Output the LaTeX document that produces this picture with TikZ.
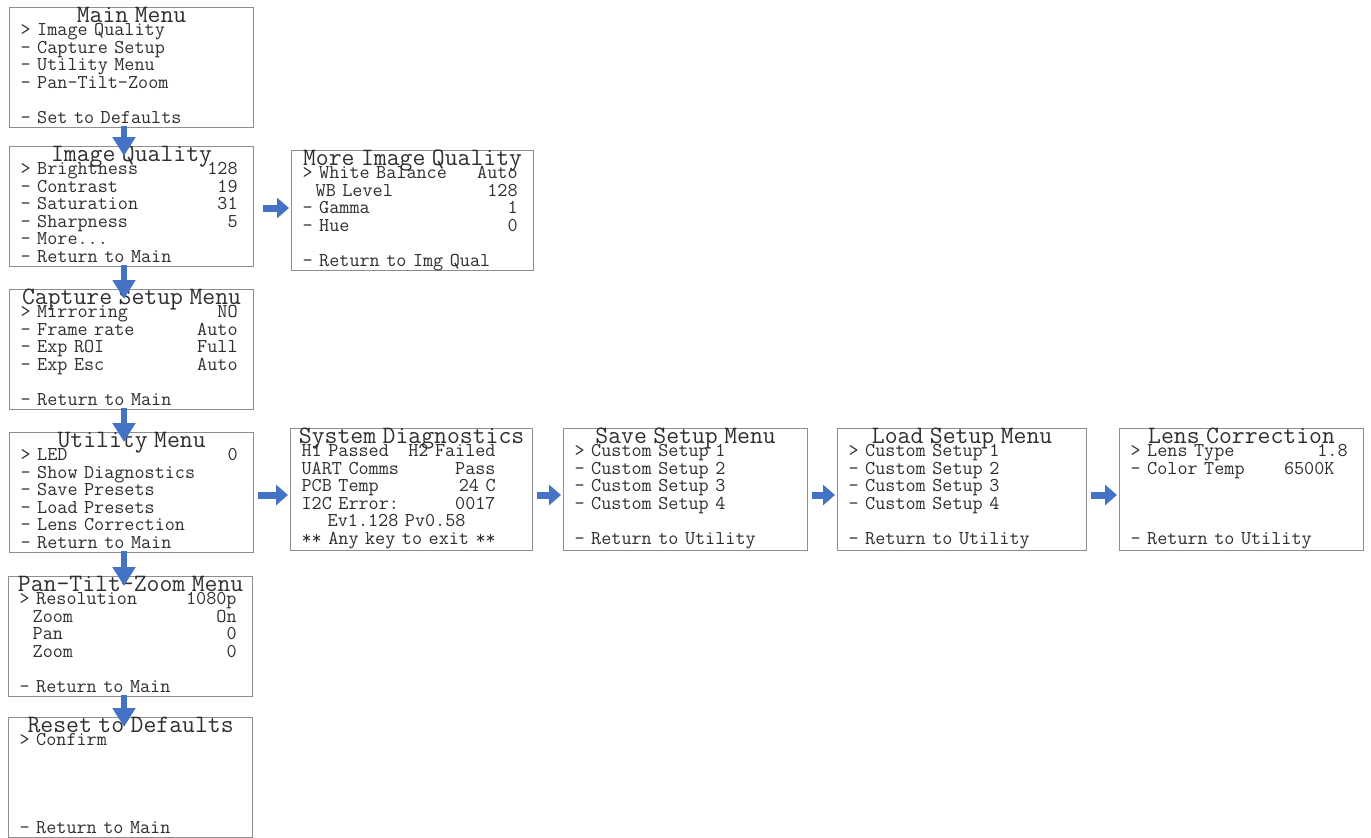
\documentclass[tikz,border=0pt]{standalone}
\usetikzlibrary{arrows.meta}

\definecolor{arrowblue}{HTML}{4472C4}
\definecolor{boxgray}{HTML}{8E8E8E}
\definecolor{lcdtext}{HTML}{2E2E2E}

\newlength{\rpad}\setlength{\rpad}{5pt}
\newcommand{\bodyfont}{\fontsize{19.6pt}{17.5pt}\selectfont\ttfamily}
\newcommand{\titlefont}{\fontsize{25pt}{26pt}\selectfont\ttfamily}
\newcommand{\mhead}[1]{\baselineskip=17.5pt\lineskip=0pt\lineskiplimit=-\maxdimen
  \hbox to\hsize{\hss\titlefont\rule{0pt}{15pt}#1\hss}\vskip-4.5pt}
\newcommand{\mrow}[2]{\hbox to\hsize{#1\hfill#2\hskip\rpad}}

\begin{document}
\begin{tikzpicture}[x=1pt,y=-1pt,
  menu/.style={draw=boxgray,line width=1.2pt,anchor=north west,inner xsep=11pt,inner ysep=0pt,
    text width=222pt,text height=15pt,text depth=105pt,font=\bodyfont,text=lcdtext},
  varrow/.style={draw=arrowblue,line width=6pt,-{Triangle[width=22pt,length=19pt]},
    shorten <=-2pt,shorten >=-10pt},
  harrow/.style={draw=arrowblue,line width=7pt,-{Triangle[width=20pt,length=12pt]},
    shorten <=4pt,shorten >=2pt}]

\useasboundingbox (0,0) rectangle (1371,838);

\node[menu] (main) at (9,7) {\mhead{Main Menu}
  \mrow{> Image Quality}{}
  \mrow{- Capture Setup}{}
  \mrow{- Utility Menu}{}
  \mrow{- Pan-Tilt-Zoom}{}
  \mrow{}{}
  \mrow{- Set to Defaults}{}};
\node[menu] (iq) at (9,146) {\mhead{Image Quality}
  \mrow{> Brightness}{128}
  \mrow{- Contrast}{19}
  \mrow{- Saturation}{31}
  \mrow{- Sharpness}{5}
  \mrow{- More...}{}
  \mrow{- Return to Main}{}};
\node[menu,text width=220pt] (moreiq) at (291,150) {\mhead{More Image Quality}
  \mrow{> White Balance}{Auto}
  \mrow{~~WB Level}{128}
  \mrow{- Gamma}{1}
  \mrow{- Hue}{0}
  \mrow{}{}
  \mrow{- Return to Img Qual}{}};
\node[menu] (capture) at (9,289) {\mhead{Capture Setup Menu}
  \mrow{> Mirroring}{NO}
  \mrow{- Frame rate}{Auto}
  \mrow{- Exp ROI}{Full}
  \mrow{- Exp Esc}{Auto}
  \mrow{}{}
  \mrow{- Return to Main}{}};
\node[menu] (util) at (9,432) {\mhead{Utility Menu}
  \mrow{> LED}{0}
  \mrow{- Show Diagnostics}{}
  \mrow{- Save Presets}{}
  \mrow{- Load Presets}{}
  \mrow{- Lens Correction}{}
  \mrow{- Return to Main}{}};
\node[menu,text width=220pt,text depth=107pt] (diag) at (290,428) {\mhead{System Diagnostics}
  \setlength{\rpad}{26pt}
  \mrow{H1 Passed}{H2 Failed}
  \mrow{UART Comms}{Pass}
  \mrow{PCB Temp}{24 C}
  \mrow{I2C Error:}{0017}
  \mrow{~~~~Ev1.128 Pv0.58}{}
  \mrow{** Any key to exit **}{}};
\node[menu,text depth=107pt] (save) at (563,428) {\mhead{Save Setup Menu}
  \mrow{> Custom Setup 1}{}
  \mrow{- Custom Setup 2}{}
  \mrow{- Custom Setup 3}{}
  \mrow{- Custom Setup 4}{}
  \mrow{}{}
  \mrow{- Return to Utility}{}};
\node[menu,text width=227pt,text depth=107pt] (load) at (837,428) {\mhead{Load Setup Menu}
  \mrow{> Custom Setup 1}{}
  \mrow{- Custom Setup 2}{}
  \mrow{- Custom Setup 3}{}
  \mrow{- Custom Setup 4}{}
  \mrow{}{}
  \mrow{- Return to Utility}{}};
\node[menu,text depth=107pt] (lens) at (1119,428) {\mhead{Lens Correction}
  \mrow{> Lens Type}{1.8}
  \mrow{- Color Temp}{6500K~~}
  \mrow{}{}
  \mrow{}{}
  \mrow{}{}
  \mrow{- Return to Utility}{}};
\node[menu] (ptz) at (8,576) {\mhead{Pan-Tilt-Zoom Menu}
  \mrow{> Resolution}{1080p}
  \mrow{~~Zoom}{On}
  \mrow{~~Pan}{0}
  \mrow{~~Zoom}{0}
  \mrow{}{}
  \mrow{- Return to Main}{}};
\node[menu] (reset) at (8,717) {\mhead{Reset to Defaults}
  \mrow{> Confirm}{}
  \mrow{}{}
  \mrow{}{}
  \mrow{}{}
  \mrow{}{}
  \mrow{- Return to Main}{}};

\coordinate (col) at (124,0);
\coordinate (iqrow) at (0,208);
\coordinate (utilrow) at (0,495);

\foreach \a/\b in {main/iq,iq/capture,capture/util,util/ptz,ptz/reset}
  \draw[varrow] (\a.south -| col) -- (\b.north -| col);

\draw[harrow,shorten <=9pt] (iq.east |- iqrow) -- (moreiq.west |- iqrow);
\foreach \a/\b in {util/diag,diag/save,save/load,load/lens}
  \draw[harrow] (\a.east |- utilrow) -- (\b.west |- utilrow);

\end{tikzpicture}
\end{document}
